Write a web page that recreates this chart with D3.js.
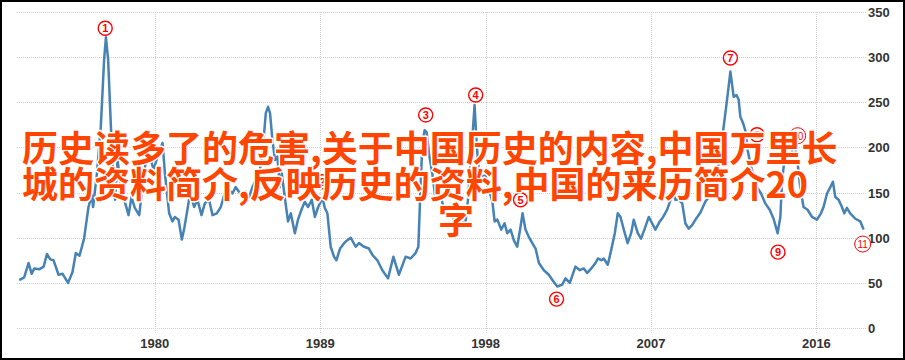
<!DOCTYPE html>
<meta charset="utf-8">
<style>
body { margin: 0; background: #fff; }
.grid line { stroke: #cfcfcf; stroke-dasharray: 1,1; shape-rendering: crispEdges; }
.tick-label { font-family: "Liberation Sans", Arial, sans-serif; font-size: 13px; font-weight: bold; fill: #333; }
.line { fill: none; stroke: #4682b4; stroke-width: 2.5px; stroke-linejoin: round; }
.mark circle { fill: #fff; stroke: #f00; stroke-width: 1.4px; }
.mark text { fill: #f00; font-family: "Liberation Sans", Arial, sans-serif; font-size: 11px; font-weight: bold; text-anchor: middle; }
.title { font-family: "Noto Sans CJK SC", sans-serif; font-size: 36px; font-weight: bold; fill: #ff4500; stroke: #fff; stroke-width: 3px; paint-order: stroke; stroke-linejoin: round; }
</style>
<body>
<script src="https://d3js.org/d3.v7.min.js"></script>
<script>
// the series
var years = [1972.62,1972.89,1973.13,1973.30,1973.44,1973.71,1973.95,1974.13,1974.31,1974.49,
  1974.76,1974.98,1975.28,1975.52,1975.70,1975.90,1976.15,1976.39,1976.57,1976.64,
  1976.85,1977.06,1977.24,1977.34,1977.46,1977.61,1977.73,1977.84,1977.97,1978.15,
  1978.30,1978.57,1978.73,1978.91,1979.15,1979.33,1979.51,1979.74,1979.93,1980.15,
  1980.42,1980.55,1980.78,1980.96,1981.09,1981.29,1981.47,1981.59,1981.74,1981.92,
  1982.14,1982.32,1982.54,1982.72,1982.95,1983.14,1983.37,1983.59,1983.77,1984.04,
  1984.22,1984.40,1984.58,1984.77,1984.95,1985.13,1985.31,1985.49,1985.67,1985.86,
  1986.04,1986.16,1986.27,1986.40,1986.54,1986.67,1986.80,1986.91,1987.07,1987.25,
  1987.40,1987.62,1987.79,1987.98,1988.16,1988.34,1988.54,1988.71,1988.89,1989.13,
  1989.25,1989.39,1989.57,1989.75,1989.88,1990.08,1990.30,1990.46,1990.66,1990.93,
  1991.11,1991.38,1991.65,1991.84,1992.11,1992.38,1992.69,1992.98,1993.28,1993.65,
  1993.92,1994.19,1994.34,1994.46,1994.56,1994.68,1994.79,1994.92,1995.10,1995.28,
  1995.46,1995.70,1995.92,1996.10,1996.28,1996.46,1996.64,1996.91,1997.04,1997.22,
  1997.40,1997.51,1997.64,1997.82,1998.00,1998.18,1998.37,1998.49,1998.64,1998.85,
  1999.03,1999.18,1999.36,1999.54,1999.72,1999.90,2000.01,2000.17,2000.35,2000.54,
  2000.72,2000.90,2001.17,2001.44,2001.71,2001.90,2002.17,2002.35,2002.58,2002.89,
  2003.13,2003.34,2003.53,2003.75,2003.98,2004.11,2004.31,2004.43,2004.65,2004.83,
  2005.03,2005.19,2005.34,2005.52,2005.73,2005.92,2006.06,2006.28,2006.46,2006.64,
  2006.88,2007.06,2007.24,2007.48,2007.66,2007.88,2008.06,2008.18,2008.33,2008.51,
  2008.70,2008.87,2009.05,2009.24,2009.42,2009.69,2009.96,2010.23,2010.56,2010.83,
  2011.14,2011.32,2011.50,2011.65,2011.77,2011.86,2012.01,2012.13,2012.26,2012.41,
  2012.58,2012.77,2012.99,2013.22,2013.46,2013.67,2013.89,2014.04,2014.13,2014.31,
  2014.49,2014.67,2014.80,2014.94,2015.12,2015.30,2015.52,2015.76,2016.03,2016.25,
  2016.39,2016.58,2016.76,2016.90,2017.03,2017.21,2017.39,2017.52,2017.66,2017.84,
  2018.12,2018.39,2018.57];
var values = [53,56,72,60,66,65,68,82,76,75,
  59,60,50,62,83,80,99,134,147,134,
  171,223,297,322,297,223,171,142,186,158,
  145,125,145,133,125,156,186,190,175,190,
  205,171,127,118,123,120,98,109,127,149,
  134,142,125,138,142,125,127,134,147,153,
  149,156,151,145,151,145,156,164,168,195,
  238,245,238,208,186,190,156,171,145,118,
  127,105,120,131,140,134,142,123,134,144,
  133,127,90,79,75,88,94,97,100,90,
  94,90,88,81,75,64,55,79,59,79,
  77,83,90,156,205,219,217,193,171,142,
  156,134,123,127,120,123,116,118,142,193,
  247,205,171,168,169,153,140,118,120,109,
  116,105,109,97,90,112,127,109,101,94,
  88,72,64,59,51,46,48,55,50,68,
  64,66,61,66,72,77,75,77,70,86,
  105,127,123,109,94,105,120,105,99,109,
  123,116,109,118,123,131,142,153,142,142,
  138,116,110,114,120,128,140,147,166,203,
  253,284,256,258,253,234,227,219,197,182,
  168,156,149,138,131,121,105,123,164,193,
  186,195,205,190,156,134,131,123,120,127,
  134,149,156,162,145,142,134,127,133,127,
  121,118,109];

var xTicks = [1980, 1989, 1998, 2007, 2016];
var yTicks = [0, 50, 100, 150, 200, 250, 300, 350];

// circled notes
var noteNums = [1, 2, 3, 4, 5, 6, 7, 8, 9, 10, 11];
var noteYears = [1977.30, 1989.12, 1994.74, 1997.46, 1999.90, 2001.86, 2011.32, 2012.77, 2013.91, 2014.98, 2018.52];
var noteValues = [332, 162, 236, 258, 142, 32, 299, 214, 84, 213, 93];

var titleLines = ["历史读多了的危害,关于中国历史的内容,中国万里长",
  "城的资料简介,反映历史的资料,中国的来历简介20",
  "字"];

var W = 905, H = 360;
var x = d3.scaleLinear().domain([1972.5, 2018.7]).range([17, 866]);
var y = d3.scaleLinear().domain([0, 350]).range([328, 12]);

var svg = d3.select("body").append("svg")
    .attr("width", W)
    .attr("height", H);

svg.append("rect").attr("width", W).attr("height", H).attr("fill", "#fff");

// horizontal gridlines
svg.append("g").attr("class", "grid")
  .selectAll("line").data(yTicks).enter().append("line")
    .attr("x1", 17).attr("x2", 866)
    .attr("y1", function(d) { return Math.round(y(d)) + 0.5; })
    .attr("y2", function(d) { return Math.round(y(d)) + 0.5; });

// vertical gridlines
svg.append("g").attr("class", "grid")
  .selectAll("line").data(xTicks).enter().append("line")
    .attr("x1", function(d) { return Math.round(x(d)) + 0.5; })
    .attr("x2", function(d) { return Math.round(x(d)) + 0.5; })
    .attr("y1", 12).attr("y2", 333);

// tick labels
svg.append("g").selectAll("text").data(xTicks).enter().append("text")
    .attr("class", "tick-label")
    .attr("x", function(d) { return x(d); })
    .attr("y", 348)
    .attr("text-anchor", "middle")
    .text(function(d) { return d; });

svg.append("g").selectAll("text").data(yTicks).enter().append("text")
    .attr("class", "tick-label")
    .attr("x", 868)
    .attr("y", function(d) { return y(d) + 5; })
    .text(function(d) { return d; });

// the line
var data = years.map(function(d, i) { return {year: d, value: values[i]}; });
var valueline = d3.line()
    .x(function(d) { return x(d.year); })
    .y(function(d) { return y(d.value); });

svg.append("path")
    .datum(data)
    .attr("class", "line")
    .attr("d", valueline);

// circled numbers
var notes = svg.append("g").selectAll("g.mark")
    .data(noteNums).enter().append("g")
    .attr("class", "mark")
    .attr("transform", function(d, i) {
      return "translate(" + x(noteYears[i]) + "," + y(noteValues[i]) + ")";
    });
notes.append("circle")
    .attr("r", function(d) { return d > 9 ? 8 : 7; })
    .style("stroke-width", function(d) { return d > 9 ? 1 : 1.4; });
notes.append("text")
    .attr("y", 4)
    .style("font-weight", function(d) { return d > 9 ? "normal" : "bold"; })
    .style("font-size", function(d) { return d > 9 ? "10px" : "11px"; })
    .text(function(d) { return d; });

// big overlay text
var tx = [22, 22, 438];
var ty = [162, 198, 234];
svg.append("g").selectAll("text").data(titleLines).enter().append("text")
    .attr("class", "title")
    .attr("x", function(d, i) { return tx[i]; })
    .attr("y", function(d, i) { return ty[i]; })
    .text(function(d) { return d; });

// frame
svg.append("rect")
    .attr("x", 1).attr("y", 1)
    .attr("width", W - 2).attr("height", H - 2)
    .attr("fill", "none")
    .attr("stroke", "#000")
    .attr("stroke-width", 2);
</script>
</body>
